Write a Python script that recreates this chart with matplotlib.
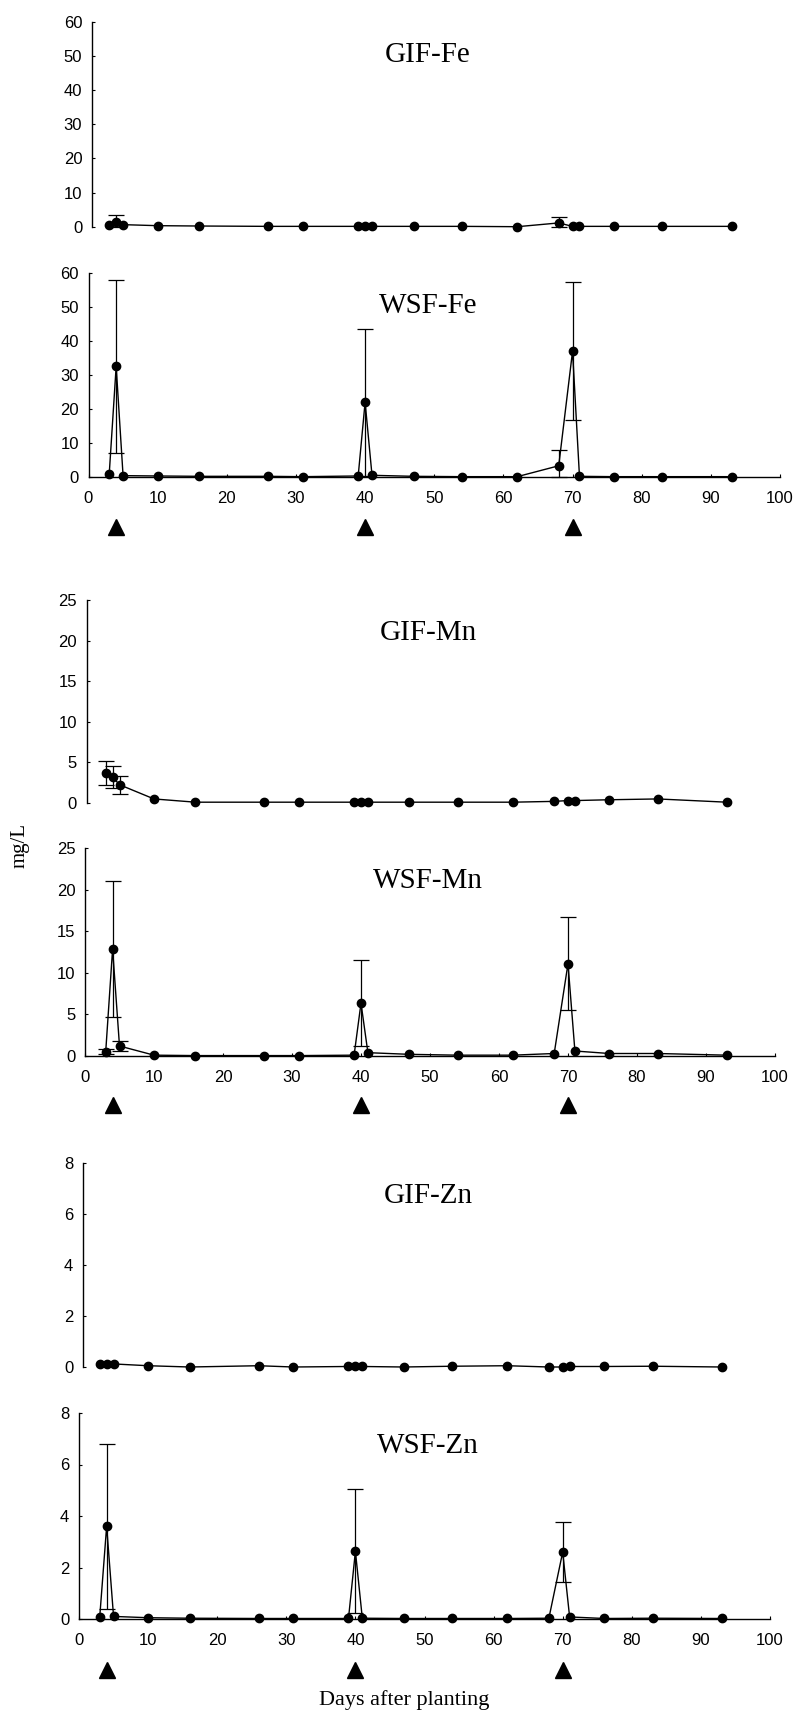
import numpy as np
import matplotlib
matplotlib.use("Agg")
import matplotlib.pyplot as plt

# ---------------- data ----------------
days = [3, 4, 5, 10, 16, 26, 31, 39, 40, 41, 47, 54, 62, 68, 70, 71, 76, 83, 93]
fert_days = [4, 40, 70]

gif_fe = [0.6, 1.4, 0.6, 0.3, 0.2, 0.1, 0.1, 0.1, 0.1, 0.1, 0.1, 0.1, 0.0, 1.1, 0.1, 0.1, 0.1, 0.1, 0.1]
gif_fe_err = [0, 1.9, 0, 0, 0, 0, 0, 0, 0, 0, 0, 0, 0, 1.7, 0, 0, 0, 0, 0]

wsf_fe = [1.0, 32.5, 0.4, 0.3, 0.2, 0.2, 0.1, 0.3, 22.0, 0.5, 0.2, 0.1, 0.1, 3.3, 37.0, 0.2, 0.1, 0.1, 0.1]
wsf_fe_err = [0, 25.5, 0, 0, 0, 0, 0, 0, 21.6, 0, 0, 0, 0, 4.5, 20.3, 0, 0, 0, 0]

gif_mn = [3.7, 3.2, 2.25, 0.5, 0.1, 0.1, 0.1, 0.1, 0.1, 0.1, 0.1, 0.1, 0.1, 0.2, 0.3, 0.3, 0.4, 0.5, 0.1]
gif_mn_err = [1.5, 1.3, 1.1, 0, 0, 0, 0, 0, 0, 0, 0, 0, 0, 0, 0, 0, 0, 0, 0]

wsf_mn = [0.5, 12.85, 1.2, 0.1, 0.05, 0.05, 0.05, 0.1, 6.35, 0.4, 0.2, 0.1, 0.1, 0.3, 11.1, 0.6, 0.3, 0.3, 0.1]
wsf_mn_err = [0.3, 8.2, 0.65, 0, 0, 0, 0, 0, 5.2, 0, 0, 0, 0, 0, 5.6, 0, 0, 0, 0]

gif_zn = [0.13, 0.13, 0.12, 0.05, 0.0, 0.05, 0.0, 0.02, 0.02, 0.02, 0.0, 0.03, 0.05, 0.0, 0.0, 0.02, 0.02, 0.03, 0.0]
gif_zn_err = [0] * 19

wsf_zn = [0.08, 3.6, 0.1, 0.05, 0.03, 0.02, 0.02, 0.02, 2.63, 0.03, 0.02, 0.02, 0.02, 0.03, 2.6, 0.08, 0.02, 0.03, 0.02]
wsf_zn_err = [0, 3.2, 0, 0, 0, 0, 0, 0, 2.4, 0, 0, 0, 0, 0, 1.16, 0, 0, 0, 0]

titles = ["GIF-Fe", "WSF-Fe", "GIF-Mn", "WSF-Mn", "GIF-Zn", "WSF-Zn"]
series = [gif_fe, wsf_fe, gif_mn, wsf_mn, gif_zn, wsf_zn]
errors = [gif_fe_err, wsf_fe_err, gif_mn_err, wsf_mn_err, gif_zn_err, wsf_zn_err]
ymaxes = [60, 60, 25, 25, 8, 8]
ysteps = [10, 10, 5, 5, 2, 2]
xticks = list(range(0, 101, 10))

# ---------------- layout (pixels) ----------------
W, H = 807, 1720
# top_px, zero_px, spine_px, x0_px, x100_px, show_x, triangle_px
layout = [
    (21.7, 226.7, 92.0, 88.5, 780.0, False, None),
    (273.0, 477.0, 88.5, 88.5, 780.0, True, 527.0),
    (600.0, 803.0, 86.5, 85.0, 775.0, False, None),
    (848.0, 1056.0, 85.0, 85.0, 775.0, True, 1105.0),
    (1163.0, 1367.0, 83.0, 79.0, 770.0, False, None),
    (1413.0, 1619.0, 79.0, 79.0, 770.0, True, 1670.0),
]

sans = ["Liberation Sans", "DejaVu Sans"]
serif = ["Liberation Serif", "DejaVu Serif"]

fig = plt.figure(figsize=(W / 100, H / 100), dpi=100)
fig.patch.set_facecolor("white")

for i, (top, zero, spine, x0, x100, show_x, tri) in enumerate(layout):
    ax = fig.add_axes([spine / W, 1 - zero / H, (x100 - spine) / W, (zero - top) / H])
    ppd = (x100 - x0) / 100.0
    ax.set_xlim((spine - x0) / ppd, 100)
    ax.set_ylim(0, ymaxes[i])
    for s in ["top", "right"]:
        ax.spines[s].set_visible(False)
    ax.spines["left"].set_linewidth(1.0)
    ax.spines["bottom"].set_linewidth(1.0)
    if not show_x:
        ax.spines["bottom"].set_visible(False)
        ax.set_xticks([])
    else:
        ax.set_xticks(xticks)
        ax.set_xticklabels([str(t) for t in xticks], fontfamily=sans, fontsize=12)
        ax.tick_params(axis="x", direction="in", length=2, width=0.8, pad=10)
    yt = list(range(0, ymaxes[i] + 1, ysteps[i]))
    ax.set_yticks(yt)
    ax.set_yticklabels([str(t) for t in yt], fontfamily=sans, fontsize=12)
    ax.tick_params(axis="y", direction="in", length=2, width=0.8, pad=7)

    d = np.array(days, dtype=float)
    v = np.array(series[i], dtype=float)
    e = np.array(errors[i], dtype=float)
    ax.plot(d, v, color="black", lw=1.0, marker="o", ms=6, clip_on=False, zorder=3)
    m = e > 0
    if m.any():
        lower = np.minimum(e[m], v[m])
        ax.errorbar(d[m], v[m], yerr=[lower, e[m]], fmt="none", ecolor="black",
                    elinewidth=0.9, capsize=6, capthick=0.9, clip_on=False, zorder=2)

    if tri is not None:
        yfrac = -(tri - zero) / (zero - top)
        ax.plot(fert_days, [yfrac] * len(fert_days), transform=ax.get_xaxis_transform(),
                marker="^", ls="none", ms=12, color="black", clip_on=False)

    fig.text(428 / W, 1 - (top + 33) / H, titles[i], ha="center", va="center",
             fontfamily=serif, fontsize=21)

fig.text(20 / W, 1 - 845 / H, "mg/L", rotation=90, ha="center", va="center",
         fontfamily=serif, fontsize=15)
fig.text(404 / W, 1 - 1700 / H, "Days after planting", ha="center", va="center",
         fontfamily=serif, fontsize=16)

fig.savefig("out.png", dpi=100, facecolor="white")
